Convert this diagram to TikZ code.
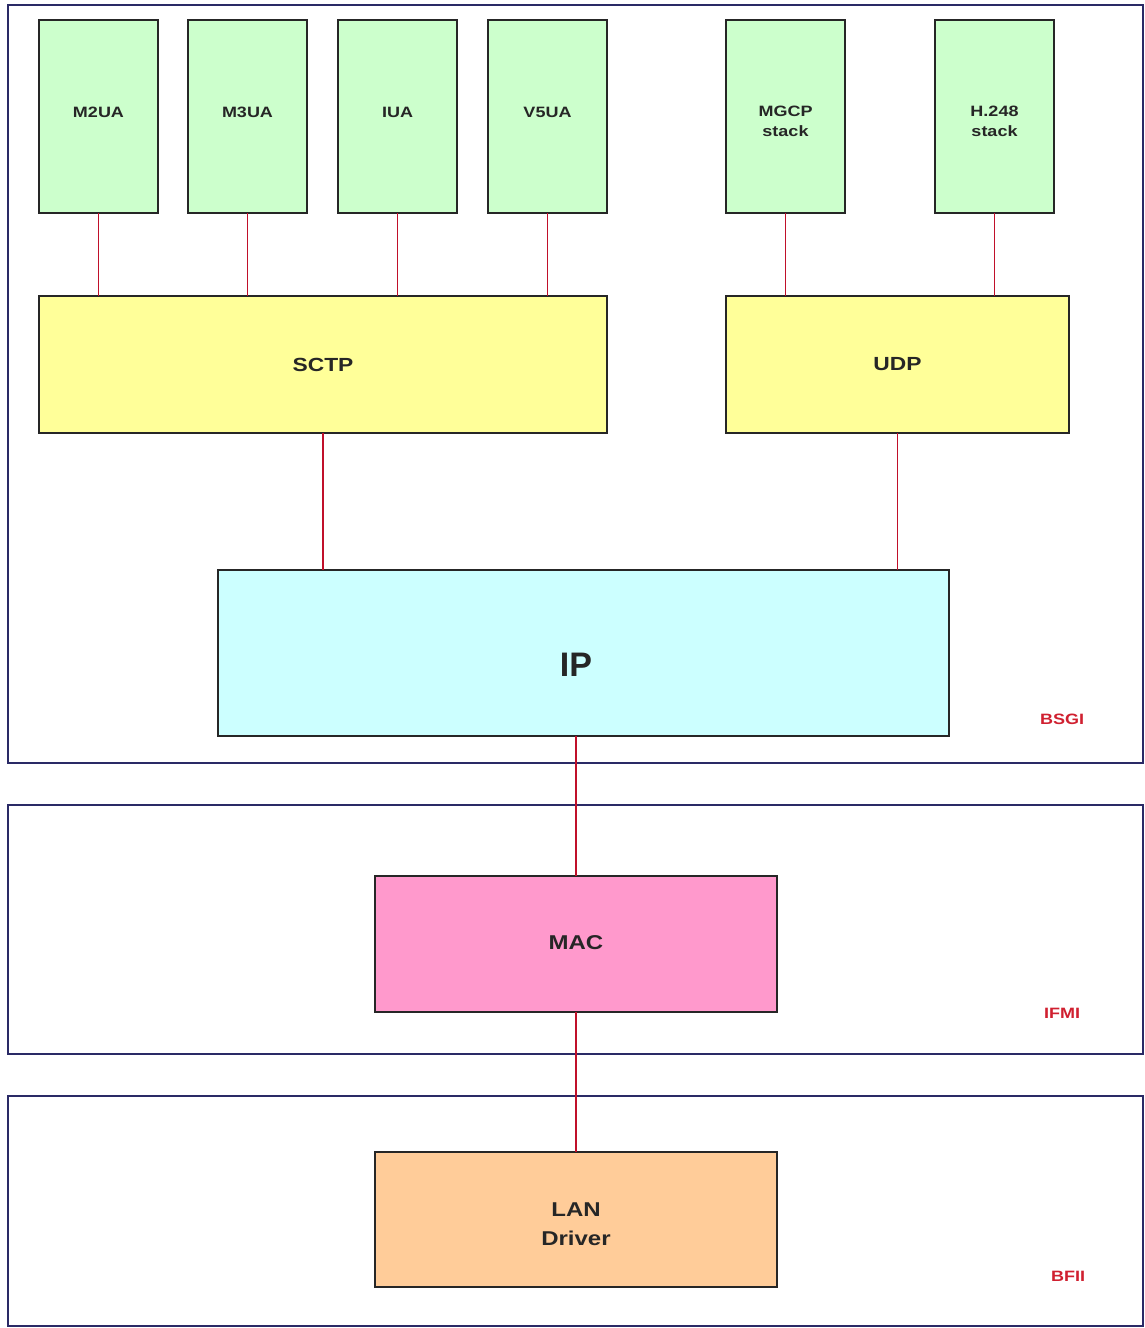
\documentclass[tikz,border=0pt]{standalone}
\usepackage{fontspec}
\setmainfont{Liberation Sans}
\newfontfamily\lblfont[FakeStretch=1.2]{Liberation Sans}
\definecolor{framec}{HTML}{2A2A66}
\definecolor{linkc}{HTML}{C0102A}
\definecolor{tagc}{HTML}{D02030}
\definecolor{greenc}{HTML}{CCFFCC}
\definecolor{yellowc}{HTML}{FFFF99}
\definecolor{cyanc}{HTML}{CCFFFF}
\definecolor{pinkc}{HTML}{FF99CC}
\definecolor{orangec}{HTML}{FFCC99}
\begin{document}
\begin{tikzpicture}[x=1pt,y=-1pt,
  box/.style={draw=black!85, line width=2pt, inner sep=0pt, outer sep=0pt},
  txt/.style={align=center, text=black!85, inner sep=0pt},
  smalltxt/.style={txt, font=\lblfont\bfseries\fontsize{15}{20}\selectfont},
  small/.style={box, fill=greenc, minimum width=119pt, minimum height=193pt},
  mid/.style={box, minimum height=137pt, txt, font=\lblfont\bfseries\fontsize{19}{22}\selectfont},
  low/.style={box, minimum width=402pt, minimum height=136pt},
  lowtxt/.style={txt, font=\lblfont\bfseries\fontsize{20}{29}\selectfont},
  frame/.style={draw=framec, line width=1.8pt},
  link/.style={draw=linkc, line width=1.6pt},
  tag/.style={text=tagc, font=\lblfont\bfseries\fontsize{15}{18}\selectfont}]
\useasboundingbox (0,0) rectangle (1145,1328);
\fill[white] (0,0) rectangle (1145,1328);
% frames
\draw[frame] (8,5) rectangle (1143,763);
\draw[frame] (8,805) rectangle (1143,1054);
\draw[frame] (8,1096) rectangle (1143,1326);
% top layer
\node[small, label={[smalltxt, yshift=4.5pt]center:M2UA}] (m2ua) at (98.5,116.5) {};
\node[small, label={[smalltxt, yshift=4.5pt]center:M3UA}] (m3ua) at (247.5,116.5) {};
\node[small, label={[smalltxt, yshift=4.5pt]center:IUA}]  (iua)  at (397.5,116.5) {};
\node[small, label={[smalltxt, yshift=4.5pt]center:V5UA}] (v5ua) at (547.5,116.5) {};
\node[small, label={[smalltxt, yshift=-5pt]center:MGCP\\stack}] (mgcp) at (785.5,116.5) {};
\node[small, label={[smalltxt, yshift=-5pt]center:H.248\\stack}] (h248) at (994.5,116.5) {};
% transport
\node[mid, fill=yellowc, minimum width=568pt] (sctp) at (323,364.5) {SCTP};
\node[mid, fill=yellowc, minimum width=343pt] (udp) at (897.5,364.5) {UDP};
% IP
\node[box, fill=cyanc, minimum width=731pt, minimum height=166pt,
  label={[txt, font=\bfseries\fontsize{34}{40}\selectfont, xshift=-7.5pt, yshift=-12pt]center:IP}] (ip) at (583.5,653) {};
% MAC, LAN
\node[low, fill=pinkc, label={[lowtxt, yshift=1.5pt]center:MAC}] (mac) at (576,944) {};
\node[low, fill=orangec, minimum height=135pt, label={[lowtxt, yshift=-5pt]center:LAN\\Driver}] (lan) at (576,1219.5) {};
% tags
\node[tag] (bsgi) at (1062,719) {BSGI};
\node[tag] (ifmi) at (1062,1013) {IFMI};
\node[tag] (bfii) at (1068,1276) {BFII};
% links
\foreach \n in {m2ua,m3ua,iua,v5ua}
  \draw[link] (\n.south) -- (\n.south |- sctp.north);
\foreach \n in {mgcp,h248}
  \draw[link] (\n.south) -- (\n.south |- udp.north);
\draw[link] (sctp.south) -- (sctp.south |- ip.north);
\draw[link] (udp.south) -- (udp.south |- ip.north);
\draw[link] (mac.north |- ip.south) -- (mac.north);
\draw[link] (mac.south) -- (lan.north);
\end{tikzpicture}
\end{document}
